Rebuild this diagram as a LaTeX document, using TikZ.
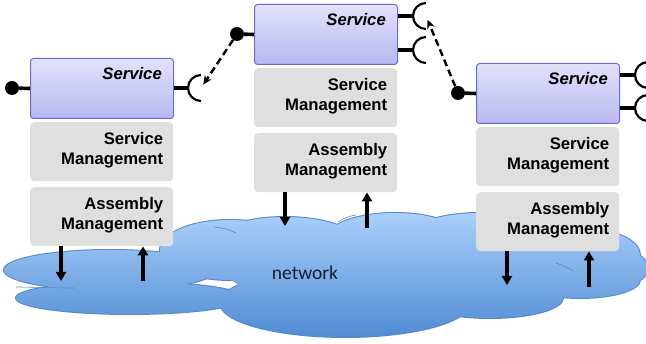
\documentclass[tikz,border=0pt]{standalone}
\usepackage{fontspec}
\setmainfont{Liberation Sans}
\newfontfamily\netfont{Carlito}
\usetikzlibrary{arrows.meta,calc}

\definecolor{svctop}{RGB}{226,226,252}
\definecolor{svcbot}{RGB}{184,184,240}
\definecolor{svcedge}{RGB}{108,108,208}
\definecolor{mgmtfill}{RGB}{223,223,223}
\definecolor{cloudtop}{RGB}{170,207,250}
\definecolor{cloudbot}{RGB}{80,140,212}
\definecolor{cloudedge}{RGB}{86,136,204}
\definecolor{nettext}{RGB}{25,30,45}

\tikzset{
  svcbox/.style={draw=svcedge, line width=1pt, rounded corners=3pt,
    top color=svctop, bottom color=svcbot, minimum width=143pt,
    minimum height=60pt, anchor=north west, inner sep=0pt},
  mgmtbox/.style={fill=mgmtfill, rounded corners=4pt, minimum width=143pt,
    minimum height=59pt, anchor=north west, inner sep=0pt},
  boxlabel/.style={font=\fontsize{16.7}{20}\selectfont\bfseries,
    align=right, anchor=north east, inner sep=0pt},
  svclabel/.style={font=\fontsize{16.7}{20}\selectfont\bfseries\itshape,
    anchor=base east, inner sep=0pt},
  ball/.style={circle, fill=black, inner sep=0pt, minimum size=14pt},
  wire/.style={line width=3.6pt},
  socket/.style={line width=2.2pt},
  call/.style={line width=2.4pt, dash pattern=on 7pt off 4pt,
    shorten >=4pt, -{Stealth[length=9pt,width=8pt]}},
  flow/.style={line width=3.4pt, -{Triangle[length=9pt,width=10pt]}},
}

% one service column: service box, service management, assembly management
\newcommand{\servicecolumn}[3]{%
  \node[svcbox] (#1svc) at (#2,#3) {};
  \node[svclabel] at ($(#1svc.north east)+(-12,21.5)$) {Service};
  \node[mgmtbox] (#1sm) at (#2,#3+64) {};
  \node[boxlabel] at ($(#1sm.north east)+(-10,10)$) {Service\\Management};
  \node[mgmtbox] (#1am) at (#2,#3+129) {};
  \node[boxlabel] at ($(#1am.north east)+(-10,10)$) {Assembly\\Management};
}

\begin{document}
\begin{tikzpicture}[x=1pt,y=-1pt]
\useasboundingbox (0,0) rectangle (646,344);

% network cloud: outline of the union of lobes, then a shaded fill over it
\foreach \cx/\cy/\rx/\ry in {110/270/106/20, 230/250/70/30, 285/245/75/28,
    395/240/70/27, 480/240/75/27, 590/255/50/25, 600/268/48/22,
    580/280/60/18, 490/298/73/20, 345/303/125/34, 130/298/114/16}
  \draw[cloudedge, line width=2pt] (\cx,\cy) ellipse [x radius=\rx, y radius=\ry];
\shade[top color=cloudtop, bottom color=cloudbot]
  foreach \cx/\cy/\rx/\ry in {110/270/106/20, 230/250/70/30, 285/245/75/28,
    395/240/70/27, 480/240/75/27, 590/255/50/25, 600/268/48/22,
    580/280/60/18, 490/298/73/20, 345/303/125/34, 130/298/114/16,
    380/275/150/30, 470/270/100/25}
  {(\cx,\cy) ellipse [x radius=\rx, y radius=\ry]};
% a few seams between lobes
\draw[cloudedge, line width=0.6pt] (214,227) .. controls (224,228) and (230,230) .. (236,233);
\draw[cloudedge, line width=0.6pt] (16,287) .. controls (30,287) and (50,288) .. (75,288);
\draw[cloudedge, line width=0.6pt] (338,222) .. controls (344,218) and (350,216) .. (356,215);
\draw[cloudedge, line width=0.6pt] (556,263) .. controls (562,265) and (568,268) .. (574,271);
\draw[cloudedge, line width=0.6pt] (247,322) .. controls (252,325) and (256,327) .. (262,329);

\node[font=\netfont\fontsize{19.5}{22}\selectfont, text=nettext] (net) at (305,273) {network};

% the three service columns
\servicecolumn{l}{30}{58}
\servicecolumn{m}{254}{4}
\servicecolumn{r}{476}{63}

% provided interfaces (balls)
\node[ball] (lball) at (12,88) {};
\node[ball] (mball) at (237,34) {};
\node[ball] (rball) at (458,93) {};
\draw[wire] (lball) -- (lsvc.west);
\draw[wire] (mball) -- (msvc.west);
\draw[wire] (rball) -- (rsvc.west);

% required interfaces (sockets)
\coordinate (lsock) at (201,88);
\coordinate (msockA) at (426,16);
\coordinate (msockB) at (426,50);
\coordinate (rsockA) at (648,75);
\coordinate (rsockB) at (648,108);
\foreach \s in {lsock, msockA, msockB, rsockA, rsockB} {
  \draw[socket] ($(\s)+(0,-13)$) arc[start angle=90, end angle=270, radius=13pt];
}
\draw[wire] (lsvc.east |- lsock) -- ($(lsock)+(-13,0)$);
\draw[wire] (msvc.east |- msockA) -- ($(msockA)+(-13,0)$);
\draw[wire] (msvc.east |- msockB) -- ($(msockB)+(-13,0)$);
\draw[wire] (rsvc.east |- rsockA) -- ($(rsockA)+(-13,0)$);
\draw[wire] (rsvc.east |- rsockB) -- ($(rsockB)+(-13,0)$);

% service calls
\draw[call] (mball) -- (lsock);
\draw[call] (rball) -- (msockA);

% traffic between assembly management and the network
\coordinate (ldown) at (61,281);
\coordinate (lup) at (143,281);
\coordinate (mdown) at (285,226);
\coordinate (mup) at (367,228);
\coordinate (rdown) at (507,285);
\coordinate (rup) at (589,287);
\draw[flow] (ldown |- lam.south) -- (ldown);
\draw[flow] (lup) -- (lup |- lam.south);
\draw[flow] (mdown |- mam.south) -- (mdown);
\draw[flow] (mup) -- (mup |- mam.south);
\draw[flow] (rdown |- ram.south) -- (rdown);
\draw[flow] (rup) -- (rup |- ram.south);
\end{tikzpicture}
\end{document}
